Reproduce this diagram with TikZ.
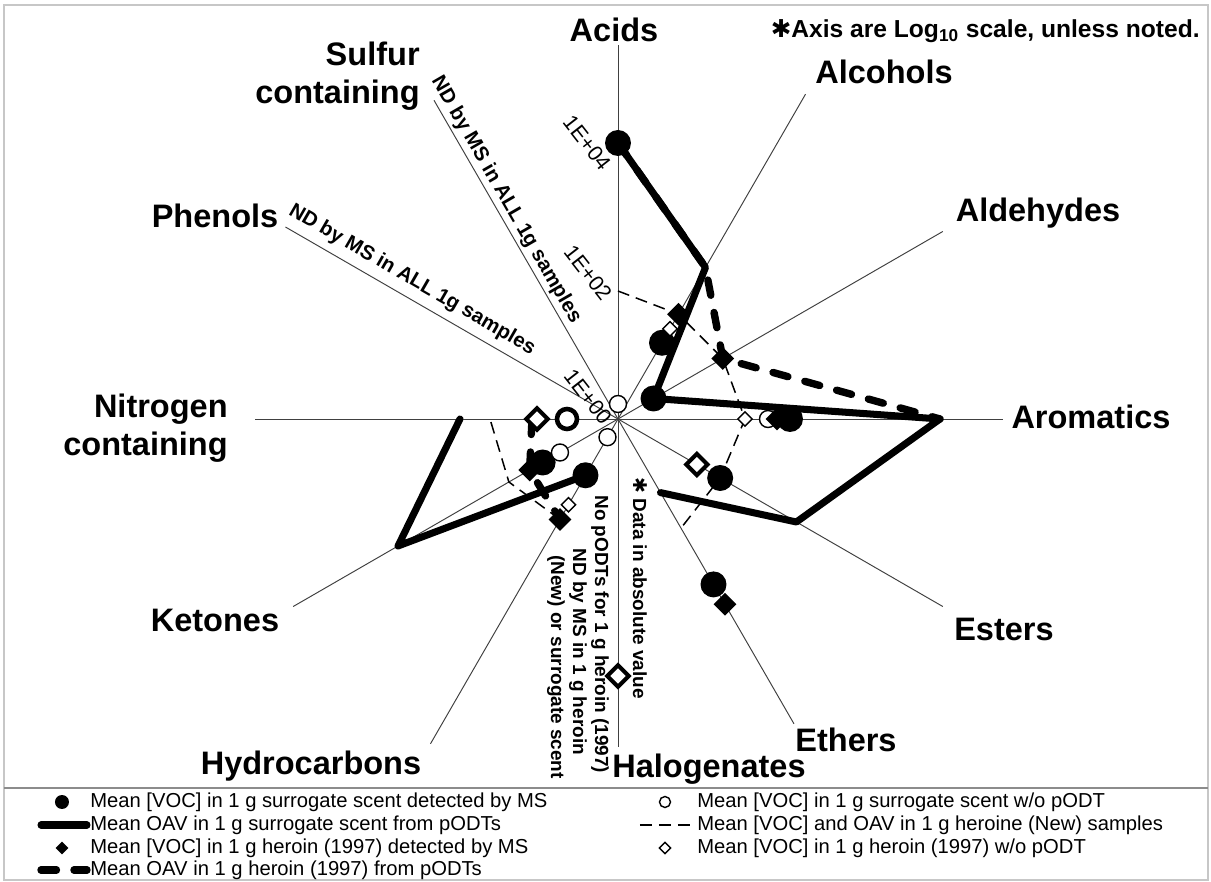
\documentclass[tikz,border=0pt]{standalone}
\usepackage{fontspec}
\setmainfont{Liberation Sans}
\newfontfamily\symfont{DejaVu Sans}
\usetikzlibrary{shapes.geometric}
\begin{document}
\begin{tikzpicture}[x=0.02cm, y=0.02cm,
  spoke/.style={draw=black!75, line width=0.55pt},
  frameline/.style={draw=black!22, line width=1.2pt},
  sepline/.style={draw=black!45, line width=1.4pt},
  catlabel/.style={font=\fontsize{18.5}{22}\selectfont\bfseries, inner sep=0pt},
  ticklabel/.style={font=\fontsize{12.2}{13}\selectfont, rotate=-52, inner sep=0pt},
  ndlabel/.style={font=\fontsize{11.6}{13}\selectfont\bfseries, inner sep=0pt},
  notelabel/.style={font=\fontsize{10.8}{12}\selectfont\bfseries, rotate=-90, anchor=west, inner sep=0pt},
  legtext/.style={font=\fontsize{11.5}{13}\selectfont, anchor=west, inner sep=0pt},
  fdot/.style={circle, fill=black, inner sep=0pt, minimum size=0.52cm},
  odot/.style={circle, draw=black, fill=white, line width=0.8pt, inner sep=0pt, minimum size=0.34cm},
  odotthick/.style={circle, draw=black, fill=white, line width=2.6pt, inner sep=0pt, minimum size=0.40cm},
  fdiam/.style={diamond, fill=black, inner sep=0pt, minimum size=0.46cm},
  odiam/.style={diamond, draw=black, fill=white, line width=0.8pt, inner sep=0pt, minimum size=0.30cm},
  odiamthick/.style={diamond, draw=black, fill=white, line width=2.3pt, inner sep=0pt, minimum size=0.46cm},
  oavsolid/.style={line width=4pt, line cap=round, line join=round},
  oavdash/.style={line width=4.2pt, line cap=round, line join=round, dash pattern=on 0.31cm off 0.35cm},
  newdash/.style={line width=0.85pt, dash pattern=on 0.24cm off 0.14cm},
]
\useasboundingbox (-618,-463) rectangle (593,419);

% frame and legend separator
\draw[frameline] (-614,414) rectangle (590,-461);
\coordinate (sepL) at (-614,-369);
\coordinate (sepR) at (590,-369);
\draw[sepline] (sepL) -- (sepR);

% spokes of the radar chart
\coordinate (O) at (0,0);
\foreach \ang/\len/\nm in {90/374/acids, 60/375/alcohols, 30/375/aldehydes, 0/385/aromatics,
  -30/375/esters, -60/352/ethers, -90/328/halogenates, -120/375/hydrocarbons,
  -150/375/ketones, 180/363/nitrogen, 150/384/phenols, 120/368/sulfur}{
  \coordinate (end-\nm) at (\ang:\len);
  \draw[spoke] (O) -- (end-\nm);
}

% category labels
\node[catlabel] (lab-acids) at (-4,389) {Acids};
\node[catlabel] (lab-alcohols) at (266,347) {Alcohols};
\node[catlabel] (lab-aldehydes) at (420,206) {Aldehydes};
\node[catlabel] (lab-aromatics) at (473,2) {Aromatics};
\node[catlabel] (lab-esters) at (386,-210) {Esters};
\node[catlabel] (lab-ethers) at (228,-321) {Ethers};
\node[catlabel] (lab-halogenates) at (91,-350) {Halogenates};
\node[catlabel] (lab-hydrocarbons) at (-307,-347) {Hydrocarbons};
\node[catlabel] (lab-ketones) at (-403,-201) {Ketones};
\node[catlabel, align=right, anchor=east] (lab-nitrogen) at (-390,-9) {Nitrogen\\containing};
\node[catlabel] (lab-phenols) at (-403,203) {Phenols};
\node[catlabel, align=right, anchor=east] (lab-sulfur) at (-198,343) {Sulfur\\containing};

% axis tick labels
\node[ticklabel] (t4) at (-31,276) {1E+04};
\node[ticklabel] (t2) at (-30,146) {1E+02};
\node[ticklabel] (t0) at (-30,22) {1E+00};

% notes
\node[font=\fontsize{14}{16}\selectfont\bfseries, anchor=east, inner sep=0pt] (note-log) at (582,388)
  {{\symfont\char"2731}Axis are Log\textsubscript{10} scale, unless noted.};
\node[ndlabel, rotate=-30] (nd-phenols) at (-206,139) {ND by MS in ALL 1g samples};
\node[ndlabel, rotate=-60] (nd-sulfur) at (-112,219) {ND by MS in ALL 1g samples};
\node[notelabel] (note-a) at (-18,-76) {No pODTs for 1 g heroin (1997)};
\node[notelabel] (note-b) at (-40,-129) {ND by MS in 1 g heroin};
\node[notelabel] (note-c) at (-62,-136) {(New) or surrogate scent};
\node[notelabel] (note-d) at (22,-58) {{\symfont\char"2731} Data in absolute value};

% data points: OAV of surrogate scent (solid) and heroin 1997 (dashed)
\coordinate (sa1) at (90:276);  \coordinate (sa2) at (60:175);  \coordinate (sa3) at (30:41);
\coordinate (sa4) at (0:322);   \coordinate (sa5) at (-30:206); \coordinate (sa6) at (-60:85);
\coordinate (sb1) at (-120:65); \coordinate (sb2) at (-150:254); \coordinate (sb3) at (180:158);
\coordinate (ha3) at (30:121);
\coordinate (hb1) at (180:86);  \coordinate (hb2) at (-150:102); \coordinate (hb3) at (-120:116);
% heroin (New) samples
\coordinate (na1) at (90:128);  \coordinate (na2) at (60:121);  \coordinate (na3) at (30:121);
\coordinate (na4) at (0:127);   \coordinate (na5) at (-30:118); \coordinate (na6) at (-60:126);
\coordinate (nb1) at (-120:116); \coordinate (nb2) at (-150:126); \coordinate (nb3) at (180:128);

\draw[newdash] (na1) -- (na2) -- (na3) -- (na4) -- (na5) -- (na6);
\draw[newdash] (nb1) -- (nb2) -- (nb3);
\draw[oavsolid] (sa1) -- (sa2) -- (sa3) -- (sa4) -- (sa5) -- (sa6);
\draw[oavsolid] (sb1) -- (sb2) -- (sb3);
\draw[oavdash] (sa1) -- (sa2) -- (ha3) -- (sa4);
\draw[oavdash] (hb1) -- (hb2) -- (hb3);

% mean [VOC] in surrogate scent, detected by MS
\node[fdot] (s-ac) at (90:276) {};
\node[fdot] (s-al) at (60:88) {};
\node[fdot] (s-ald) at (30:41) {};
\node[fdot] (s-ar) at (0:172) {};
\node[fdot] (s-es) at (-30:118) {};
\node[fdot] (s-et) at (-60:191) {};
\node[fdot] (s-hy) at (-120:65) {};
\node[fdot] (s-ke) at (-150:87) {};
% surrogate scent without pODT
\node[odot] (o-ac) at (90:15) {};
\node[odot] (o-ar) at (0:150) {};
\node[odot] (o-hy) at (-120:21) {};
\node[odot] (o-ke) at (-150:67) {};
\node[odotthick] (o-ni) at (180:51) {};
% heroin 1997, detected by MS
\node[fdiam] (d-al) at (60:121) {};
\node[fdiam] (d-ald) at (30:121) {};
\node[fdiam] (d-ar) at (0:159) {};
\node[fdiam] (d-et) at (-60:214) {};
\node[fdiam] (d-hy) at (-120:116) {};
\node[fdiam] (d-ke) at (-150:102) {};
% heroin 1997 without pODT
\node[odiam] (od-al) at (60:104) {};
\node[odiam] (od-ar) at (0:127) {};
\node[odiam] (od-hy) at (-120:99) {};
\node[odiamthick] (od-es) at (-30:91) {};
\node[odiamthick] (od-ni) at (180:81) {};
\node[odiamthick] (od-ha) at (-90:257) {};

% legend
\node[fdot, minimum size=0.28cm] (lg1m) at (-556,-383) {};
\node[legtext] (lg1t) at (-528,-383) {Mean [VOC] in 1 g surrogate scent detected by MS};
\coordinate (lg2a) at (-577,-406); \coordinate (lg2b) at (-531,-406);
\draw[oavsolid] (lg2a) -- (lg2b);
\node[legtext] (lg2t) at (-528,-406) {Mean OAV in 1 g surrogate scent from pODTs};
\node[fdiam, minimum size=0.26cm] (lg3m) at (-556,-429) {};
\node[legtext] (lg3t) at (-528,-429) {Mean [VOC] in 1 g heroin (1997) detected by MS};
\coordinate (lg4a) at (-577,-451); \coordinate (lg4b) at (-531,-451);
\draw[oavdash] (lg4a) -- (lg4b);
\node[legtext] (lg4t) at (-528,-451) {Mean OAV in 1 g heroin (1997) from pODTs};

\node[odot, minimum size=0.22cm] (lg5m) at (47,-383) {};
\node[legtext] (lg5t) at (79,-383) {Mean [VOC] in 1 g surrogate scent w/o pODT};
\coordinate (lg6a) at (22,-406); \coordinate (lg6b) at (77,-406);
\draw[newdash] (lg6a) -- (lg6b);
\node[legtext] (lg6t) at (79,-406) {Mean [VOC] and OAV in 1 g heroine (New) samples};
\node[odiam, minimum size=0.24cm] (lg7m) at (47,-429) {};
\node[legtext] (lg7t) at (79,-429) {Mean [VOC] in 1 g heroin (1997) w/o pODT};
\end{tikzpicture}
\end{document}
